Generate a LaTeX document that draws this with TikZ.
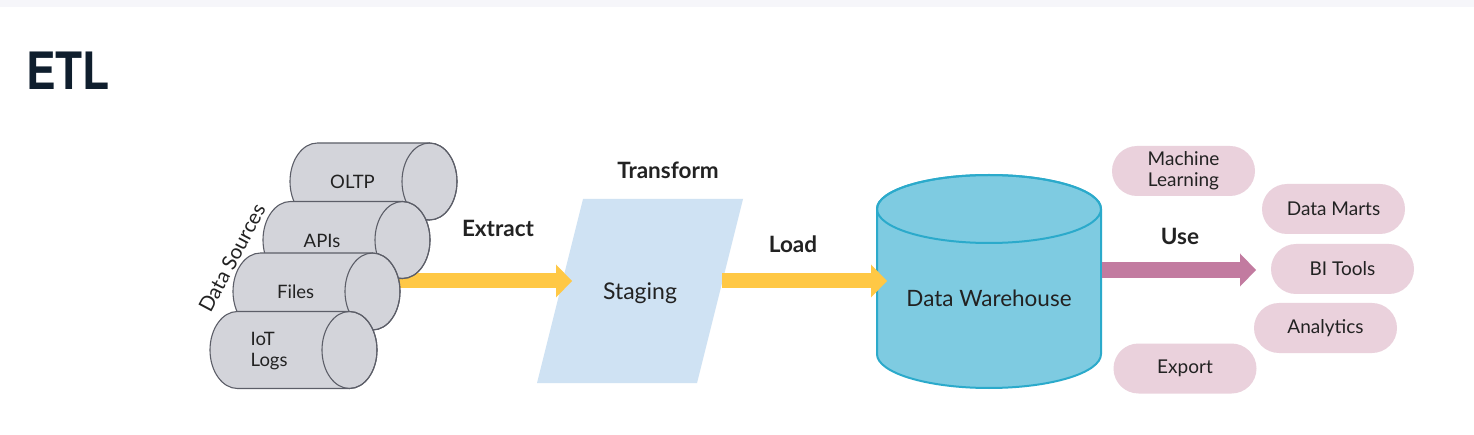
\documentclass[tikz,border=0pt]{standalone}
\usepackage{fontspec}
\setmainfont{Lato}
\newfontfamily\titlefont{TeX Gyre Heros}
\usetikzlibrary{arrows.meta}
\definecolor{srcfill}{HTML}{D3D4DA}
\definecolor{srcdraw}{HTML}{5C5E68}
\definecolor{stagefill}{HTML}{CFE2F3}
\definecolor{yel}{HTML}{FFC845}
\definecolor{whfill}{HTML}{7ECBE1}
\definecolor{whdraw}{HTML}{2BAACB}
\definecolor{usecol}{HTML}{C27BA0}
\definecolor{pill}{HTML}{EAD1DC}
\definecolor{txt}{HTML}{222222}
\definecolor{titlec}{HTML}{0F1E2D}
\definecolor{strip}{HTML}{F6F6FA}
\tikzset{
  pillbox/.style={fill=pill, rounded corners=25pt, minimum width=143pt, minimum height=50pt, inner sep=0pt, font=\fontsize{19}{21}\selectfont, text=txt, align=center},
  lbl/.style={font=\bfseries\fontsize{22.5}{26}\selectfont, text=txt, anchor=base, inner sep=0pt},
  srctext/.style={font=\fontsize{18.5}{21}\selectfont, text=txt, inner sep=0pt},
  srccyl/.style={fill=srcfill, draw=srcdraw, line width=1.1pt},
  fatarrow/.style={draw=#1, line width=15pt, -{Triangle[length=16pt,width=33pt,line width=0pt]}},
}
% horizontal cylinder: #1 left x, #2 centre y
\newcommand\hcyl[2]{%
  \path[srccyl] (#1+27.5,#2-38.5) -- (#1+139.5,#2-38.5)
     arc[start angle=-90,end angle=90,x radius=27.5,y radius=38.5]
     -- (#1+27.5,#2+38.5)
     arc[start angle=90,end angle=270,x radius=27.5,y radius=38.5] -- cycle;
  \draw[srcdraw, line width=1.1pt] (#1+139.5,#2) ellipse[x radius=27.5, y radius=38.5];
}
\begin{document}
\begin{tikzpicture}[x=1pt,y=-1pt]
\useasboundingbox (0,0) rectangle (1474,435);
\fill[white] (0,0) rectangle (1474,435);
\fill[strip] (0,0) rectangle (1474,7);
% title
\node[font=\titlefont\bfseries\fontsize{51.5}{55}\selectfont, text=titlec, anchor=base west, inner sep=0pt, xscale=0.86] (title) at (26,90) {ETL};

% staging
\fill[stagefill] (583,199) -- (743,199) -- (697,383) -- (537,383) -- cycle;
\node[font=\fontsize{23}{27}\selectfont, text=txt, anchor=base, inner sep=0pt] (staging) at (640,300) {Staging};

% extract arrow (behind cylinders)
\coordinate (extS) at (380,281);
\coordinate (extE) at (572,281);
\draw[fatarrow=yel] (extS) -- (extE);

% data source cylinders
\hcyl{290}{181.5}
\node[srctext, anchor=base] (oltp) at (352.5,188.3) {OLTP};
\hcyl{263}{240}
\node[srctext, anchor=base] (apis) at (322,247.3) {APIs};
\hcyl{233}{291.5}
\node[srctext, anchor=base] (files) at (295.7,298.3) {Files};
\hcyl{210}{350}
\node[srctext, anchor=base west, align=left] (iot) at (250.5,366.7) {IoT\\Logs};
\node[font=\fontsize{20.5}{24}\selectfont, text=txt, rotate=62, inner sep=0pt] (ds) at (232,258) {Data Sources};

% warehouse
\path[fill=whfill, draw=whdraw, line width=2pt] (877,209) -- (877,354)
   arc[start angle=180,end angle=0,x radius=112,y radius=34] -- (1101,209)
   arc[start angle=0,end angle=-180,x radius=112,y radius=34] -- cycle;
\draw[whdraw, line width=2pt] (989,209) ellipse[x radius=112, y radius=34];
\node[font=\fontsize{22.5}{26}\selectfont, text=txt, anchor=base, inner sep=0pt] (wh) at (989,306.7) {Data Warehouse};

% load arrow
\coordinate (loadS) at (722,281);
\coordinate (loadE) at (887,281);
\draw[fatarrow=yel] (loadS) -- (loadE);

% use arrow
\coordinate (useS) at (1102,270);
\coordinate (useE) at (1256,270);
\draw[fatarrow=usecol, line width=16pt] (useS) -- (useE);

% labels
\node[lbl] (lextract) at (498,237) {Extract};
\node[lbl] (ltransform) at (668,179) {Transform};
\node[lbl] (lload) at (793,253) {Load};
\node[lbl] (luse) at (1180,245) {Use};

% pills
\node[pillbox] (ml) at (1183.5,171) {Machine\\Learning};
\node[pillbox] (marts) at (1333.5,209) {Data Marts};
\node[pillbox] (bi) at (1342.5,269) {BI Tools};
\node[pillbox] (analytics) at (1325.5,328) {Analytics};
\node[pillbox] (export) at (1185,368.5) {Export};
\end{tikzpicture}
\end{document}
